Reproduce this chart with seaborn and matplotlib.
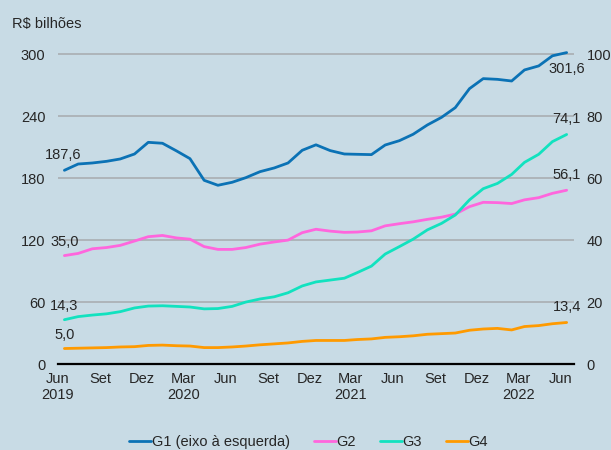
import numpy as np
import pandas as pd
import matplotlib
matplotlib.use('Agg')
import matplotlib.pyplot as plt
import seaborn as sns

# monthly series, Jun 2019 - Jun 2022
g1 = [187.6, 193.7, 194.7, 196.3, 198.6, 203.4, 214.7, 213.8, 206.3, 198.9,
      177.9, 173.1, 176.0, 180.5, 186.3, 189.9, 194.7, 207.0, 212.3, 206.7,
      203.4, 203.1, 202.8, 212.1, 216.3, 222.5, 231.5, 238.9, 248.3, 266.7,
      276.4, 275.7, 274.1, 284.8, 288.7, 298.5, 301.6]
g2 = [35.0, 35.7, 37.2, 37.6, 38.3, 39.7, 41.1, 41.5, 40.7, 40.3,
      37.9, 37.0, 37.0, 37.6, 38.7, 39.4, 40.0, 42.4, 43.5, 42.9,
      42.5, 42.6, 43.0, 44.6, 45.3, 45.9, 46.7, 47.4, 48.4, 50.8,
      52.2, 52.1, 51.8, 53.0, 53.7, 55.1, 56.1]
g3 = [14.3, 15.3, 15.8, 16.2, 16.9, 18.1, 18.7, 18.8, 18.6, 18.4,
      17.8, 17.9, 18.6, 20.0, 21.0, 21.7, 23.0, 25.2, 26.5, 27.1,
      27.7, 29.5, 31.6, 35.5, 37.9, 40.3, 43.3, 45.4, 48.1, 53.0,
      56.6, 58.3, 61.2, 65.1, 67.7, 71.8, 74.1]
g4 = [5.0, 5.1, 5.2, 5.3, 5.5, 5.6, 6.0, 6.1, 5.9, 5.8,
      5.3, 5.3, 5.5, 5.8, 6.2, 6.5, 6.8, 7.3, 7.6, 7.6,
      7.6, 7.9, 8.1, 8.6, 8.8, 9.1, 9.6, 9.8, 10.0, 10.9,
      11.3, 11.5, 11.0, 12.1, 12.4, 13.0, 13.4]
dates = pd.date_range('2019-06-01', periods=37, freq='MS') + pd.Timedelta(days=14)

meses = {3: 'Mar', 6: 'Jun', 9: 'Set', 12: 'Dez'}

df = pd.DataFrame({'data': dates, 'G1': g1, 'G2': g2, 'G3': g3, 'G4': g4})

bg = '#c8dbe5'
cores = {'G1': '#0b72b5', 'G2': '#ff66dd', 'G3': '#12e2bf', 'G4': '#ff9a00'}
fs = 10.5

sns.set_theme(style='white')
plt.rcParams['font.family'] = ['Liberation Sans', 'DejaVu Sans']
plt.rcParams['font.size'] = fs

fig = plt.figure(figsize=(6.11, 4.5), dpi=100, facecolor=bg)
ax = fig.add_axes([0.0949, 0.1911, 0.8445, 0.6998])
ax.set_facecolor(bg)
ax2 = ax.twinx()

sns.lineplot(data=df, x='data', y='G1', ax=ax, color=cores['G1'], lw=2,
             label='G1 (eixo à esquerda)', legend=False, clip_on=False)
for s in ['G2', 'G3', 'G4']:
    sns.lineplot(data=df, x='data', y=s, ax=ax2, color=cores[s], lw=2,
                 label=s, legend=False, clip_on=False)

ax.set_ylim(0, 305)
ax2.set_ylim(0, 305 / 3)
ax.set_yticks([0, 60, 120, 180, 240, 300])
ax2.set_yticks([0, 20, 40, 60, 80, 100])
ax.set_xlim(pd.Timestamp('2019-06-01'), pd.Timestamp('2022-07-01'))

ticks = pd.date_range('2019-06-01', '2022-06-01', freq='3MS')
labels = []
for i, t in enumerate(ticks):
    lab = meses[t.month]
    if i == 0 or t.month == 3:
        lab += '\n' + str(t.year)
    labels.append(lab)
ax.set_xticks(ticks)
ax.set_xticklabels(labels, fontsize=fs, linespacing=1.15)

ax.grid(axis='y', color='#a9aeb2', lw=1.2)
ax.grid(axis='x', visible=False)
for a in (ax, ax2):
    for sp in ['top', 'left', 'right', 'bottom']:
        a.spines[sp].set_visible(False)
ax.spines['bottom'].set_visible(True)
ax.spines['bottom'].set_color('black')
ax.spines['bottom'].set_linewidth(1.6)
ax2.xaxis.set_visible(False)
ax.tick_params(axis='x', direction='out', length=4, width=1.3, color='black', pad=2, labelsize=fs)
ax.tick_params(axis='y', length=0, pad=9, labelsize=fs)
ax2.tick_params(axis='y', length=0, pad=9, labelsize=fs)
ax.set_xlabel('')
ax.set_ylabel('')
ax2.set_ylabel('')

fig.text(0.02, 0.946, 'R$ bilhões', fontsize=fs, ha='left', va='center')


def fmt(v):
    return f'{v:.1f}'.replace('.', ',')


# first values above the start of each line
ax.annotate(fmt(g1[0]), (dates[0], g1[0]), xytext=(-1, 6), textcoords='offset points',
            ha='center', va='bottom', fontsize=fs)
for s, vals in [('G2', g2), ('G3', g3), ('G4', g4)]:
    ax2.annotate(fmt(vals[0]), (dates[0], vals[0]), xytext=(0, 5), textcoords='offset points',
                 ha='center', va='bottom', fontsize=fs)

# last values
ax.annotate(fmt(g1[-1]), (dates[-1], g1[-1]), xytext=(0, -7), textcoords='offset points',
            ha='center', va='top', fontsize=fs)
for s, vals in [('G2', g2), ('G3', g3), ('G4', g4)]:
    ax2.annotate(fmt(vals[-1]), (dates[-1], vals[-1]), xytext=(0, 6), textcoords='offset points',
                 ha='center', va='bottom', fontsize=fs)

h1, l1 = ax.get_legend_handles_labels()
h2, l2 = ax2.get_legend_handles_labels()
fig.legend(h1 + h2, l1 + l2, loc='center', bbox_to_anchor=(0.505, 0.018), ncol=4,
           frameon=False, handlelength=1.5, handletextpad=0.05, columnspacing=1.65,
           fontsize=fs)

fig.savefig('out.png', dpi=100, facecolor=bg)
